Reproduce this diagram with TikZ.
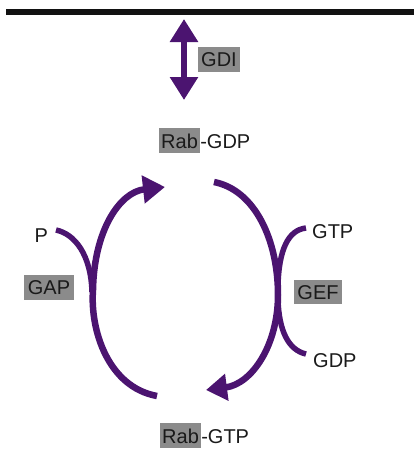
\documentclass[tikz,border=0pt]{standalone}
\usepackage{fontspec}
\setmainfont{Liberation Sans}
\usetikzlibrary{arrows.meta}
\definecolor{rabpurple}{RGB}{75,20,112}
\definecolor{boxgrey}{RGB}{139,139,139}
\definecolor{ink}{RGB}{26,26,26}
\begin{document}
\begin{tikzpicture}[x=1pt,y=-1pt,
  font=\fontsize{20}{24}\selectfont,
  greybox/.style={fill=boxgrey, text=ink, inner xsep=3.5pt, inner ysep=5pt, text height=14.6pt, text depth=0pt},
  plain/.style={text=ink, inner sep=0pt, text height=14.6pt, text depth=0pt},
  cyc/.style={draw=rabpurple, line width=6.5pt},
  branch/.style={draw=rabpurple, line width=5.5pt},
  bighead/.style={-{Triangle[length=22pt,width=27pt]}}]
\useasboundingbox (0,0) rectangle (414,451);
% membrane
\coordinate (memL) at (6,12);
\coordinate (memR) at (414,12);
\draw[line width=6pt, draw=black!93] (memL) -- (memR);
% GDI double arrow
\coordinate (gdiTop) at (184,19);
\coordinate (gdiBot) at (184,100);
\draw[cyc, line width=6pt, {Triangle[length=23pt,width=27pt]}-{Triangle[length=23pt,width=27pt]}] (gdiTop) -- (gdiBot);
\node[greybox] (gdi) at (219,59.5) {GDI};
% Rab-GDP
\node[greybox, inner xsep=2pt, anchor=base west] (rabA) at (159,148) {Rab};
\node[plain, anchor=base west] (gdpA) at (rabA.base east) {-GDP};
% Rab-GTP
\node[greybox, inner xsep=2pt, anchor=base west] (rabB) at (160,443) {Rab};
\node[plain, anchor=base west] (gtpB) at (rabB.base east) {-GTP};
% side labels
\node[plain, anchor=base west] (pLab) at (34.5,242) {P};
\node[greybox] (gap) at (49,287.5) {GAP};
\node[plain, anchor=base west] (gtpLab) at (312,238) {GTP};
\node[greybox] (gef) at (318,292) {GEF};
\node[plain, anchor=base west] (gdpLab) at (313,367) {GDP};
% left arc (GAP)
\coordinate (lcStart) at (157,396);
\coordinate (lcMid) at (93,290);
\coordinate (lcTip) at (165,187);
\draw[cyc, bighead] (lcStart) .. controls (108,387) and (90,330) .. (lcMid) .. controls (94,230) and (120,192) .. (lcTip);
\coordinate (pStart) at (56,230);
\coordinate (pJoin) at (92,292);
\draw[branch] (pStart) .. controls (75,234) and (91,255) .. (pJoin);
% right arc (GEF)
\coordinate (rcStart) at (214,182);
\coordinate (rcMid) at (278,295);
\coordinate (rcTip) at (206,390);
\draw[cyc, -{Triangle[length=21pt,width=26pt]}] (rcStart) .. controls (255,190) and (278,240) .. (rcMid) .. controls (278,345) and (252,384) .. (rcTip);
\coordinate (gtpStart) at (306,228);
\coordinate (gtpJoin) at (278,285);
\draw[branch] (gtpStart) .. controls (288,230) and (279,250) .. (gtpJoin);
\coordinate (gdpStart) at (306,354);
\coordinate (gdpJoin) at (278,300);
\draw[branch] (gdpStart) .. controls (288,350) and (279,330) .. (gdpJoin);
\end{tikzpicture}
\end{document}
